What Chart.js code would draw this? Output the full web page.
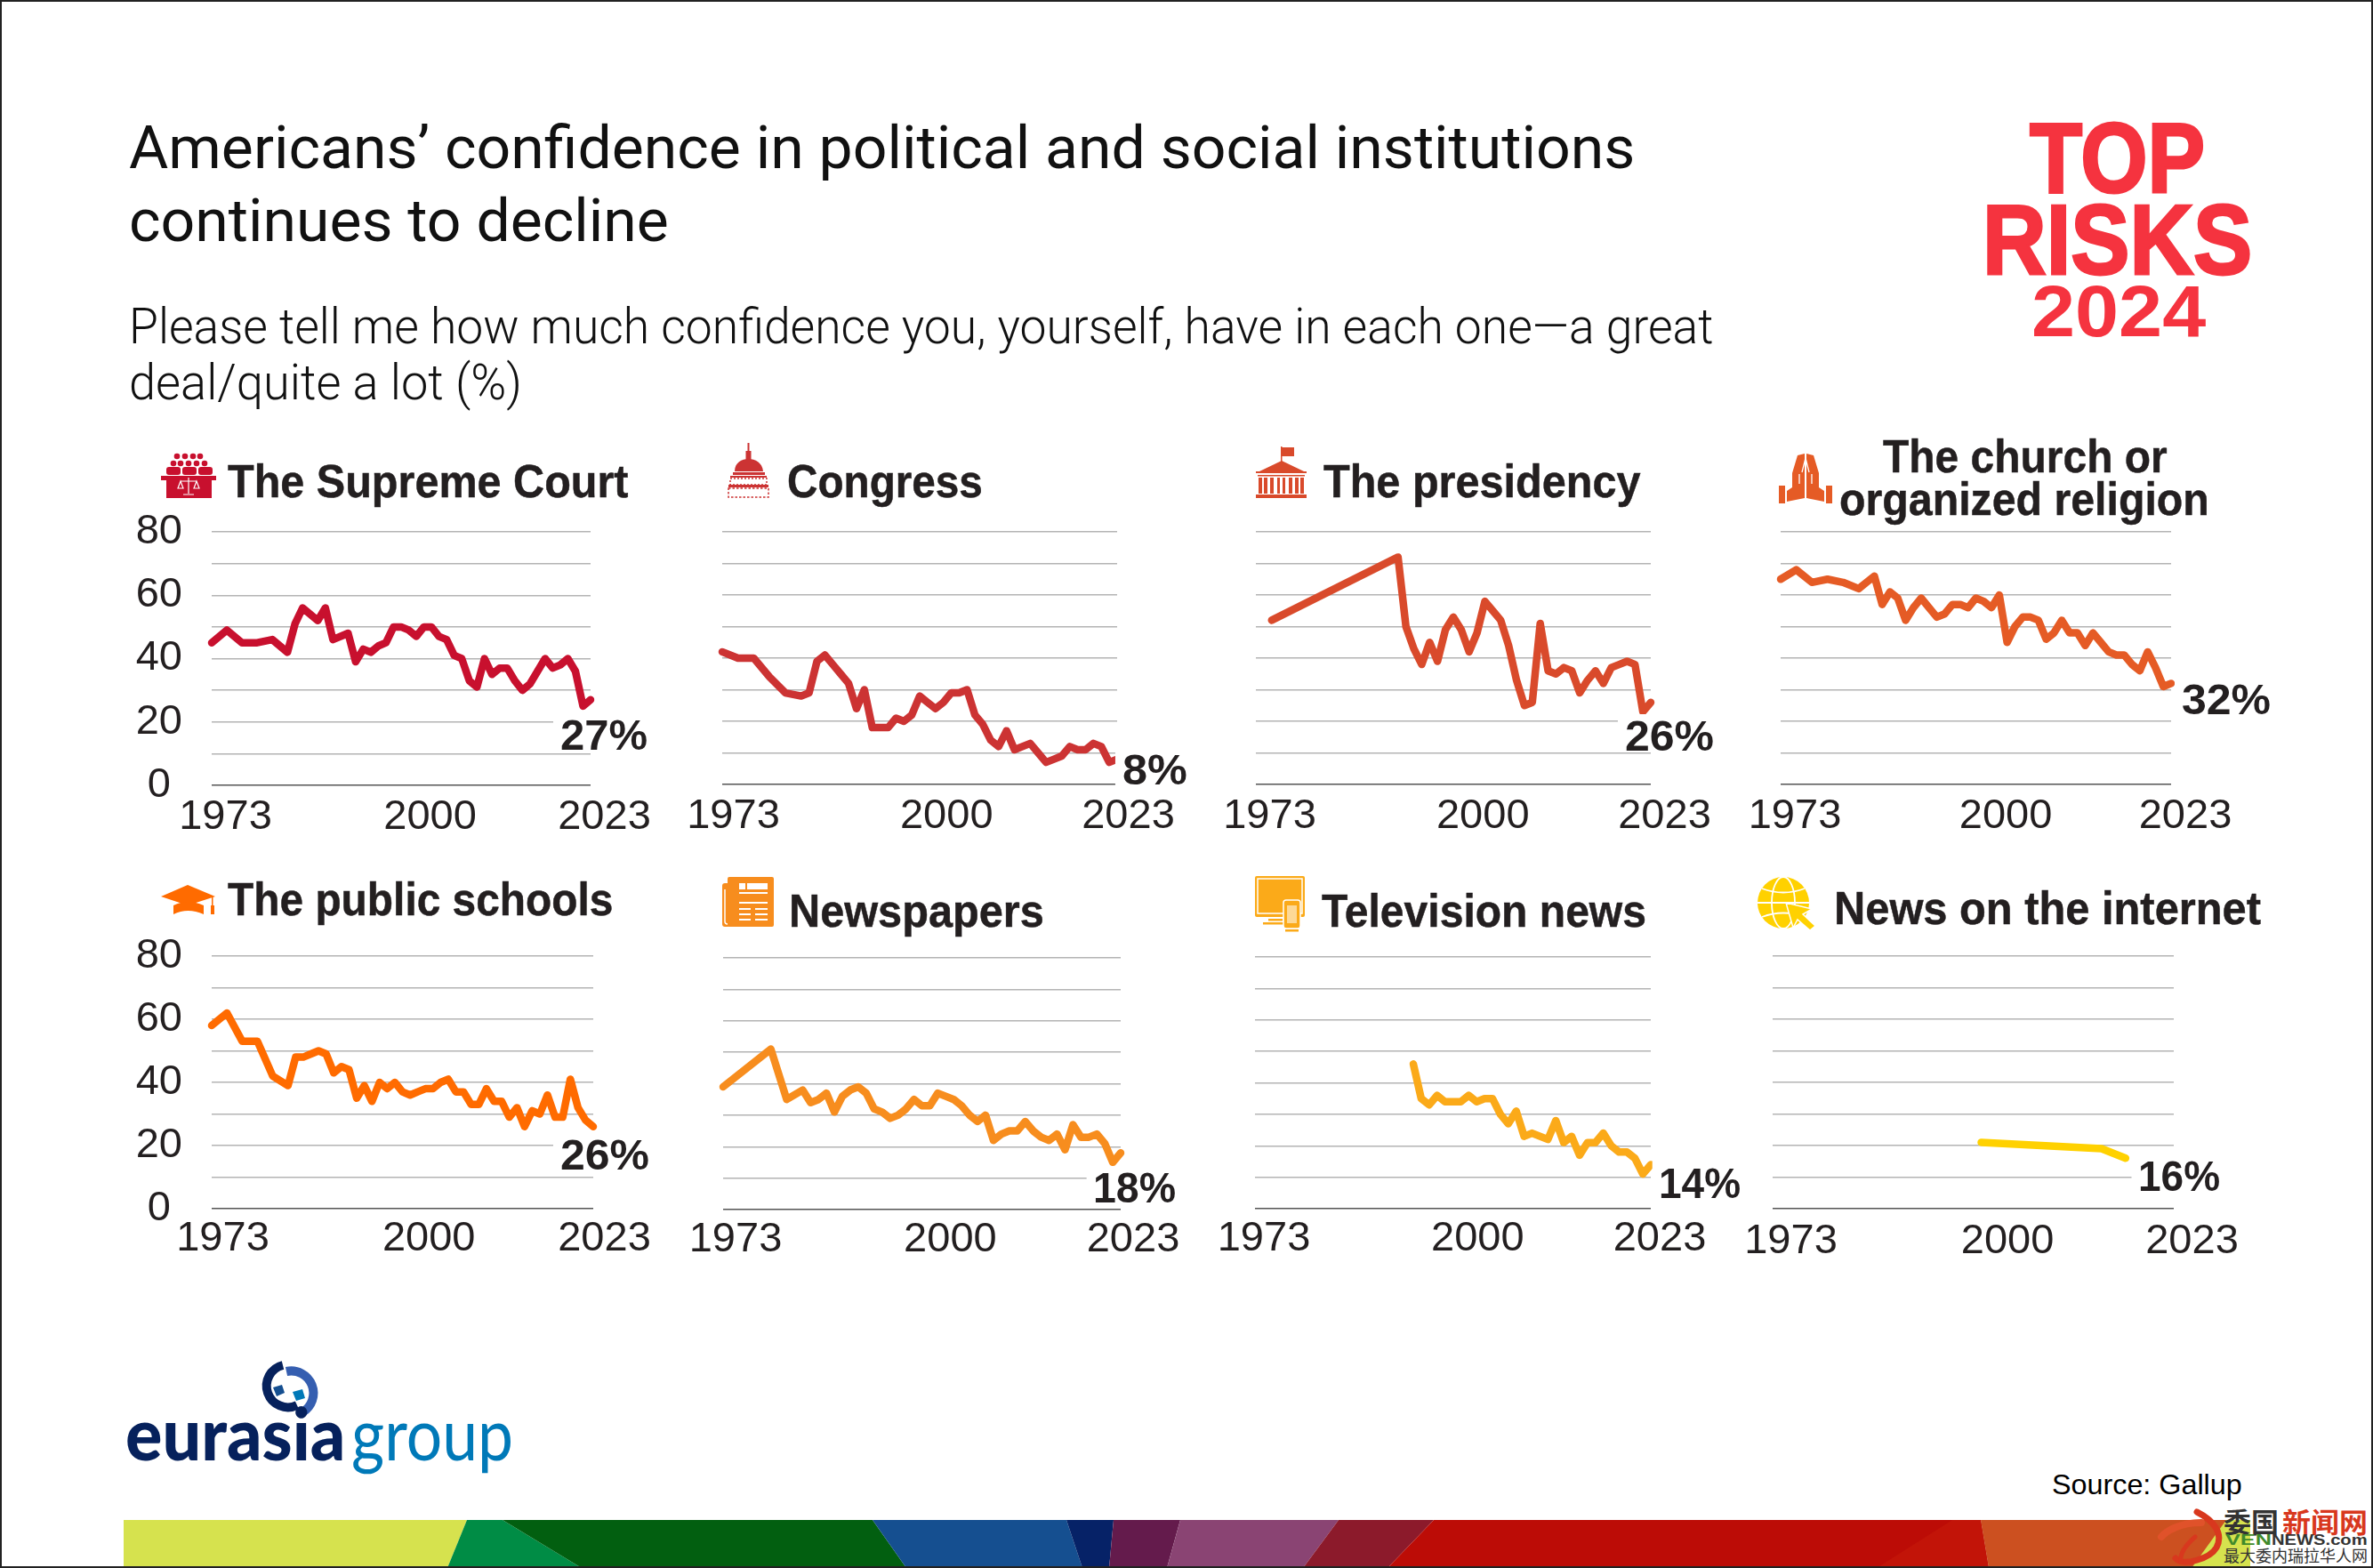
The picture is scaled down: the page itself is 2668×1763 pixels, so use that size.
<!DOCTYPE html>
<html>
<head>
<meta charset="utf-8">
<title>Confidence in institutions</title>
<script src="https://cdn.jsdelivr.net/npm/chart.js@4"></script>
<style>
  html, body { margin: 0; padding: 0; background: #fff; }
  #page { position: relative; width: 2668px; height: 1763px; overflow: hidden; background: #fff; }
  #frame { position: absolute; left: 0; top: 0; width: 2668px; height: 1763px; box-sizing: border-box; border: 2px solid #222; z-index: 9; pointer-events: none; }
  canvas { position: absolute; }
  svg { position: absolute; left: 0; top: 0; }
  .txt { position: absolute; white-space: nowrap; line-height: 1; transform-origin: left top; z-index: 5; font-family: "Liberation Sans", Arial, sans-serif; color: #231f20; }
</style>
</head>
<body>
<div id="page">
  <svg width="2668" height="1763" viewBox="0 0 2668 1763">
    <!-- colour strip -->
    <polygon fill="#d6e24e" points="139,1709 525,1709 503,1763 139,1763"/>
    <polygon fill="#008c45" points="525,1709 565,1709 654,1763 503,1763"/>
    <polygon fill="#025f10" points="565,1709 981,1709 1019,1763 654,1763"/>
    <polygon fill="#154f90" points="981,1709 1199,1709 1217,1763 1019,1763"/>
    <polygon fill="#062267" points="1199,1709 1252,1709 1247,1763 1217,1763"/>
    <polygon fill="#641b4c" points="1252,1709 1327,1709 1312,1763 1247,1763"/>
    <polygon fill="#8a4473" points="1327,1709 1505,1709 1465,1763 1312,1763"/>
    <polygon fill="#8c1a2b" points="1505,1709 1612,1709 1560,1763 1465,1763"/>
    <polygon fill="#bc0c06" points="1612,1709 2227,1709 2236,1763 1560,1763"/>
    <polygon fill="#c21408" points="2195,1709 2227,1709 2236,1763 2110,1763"/>
    <polygon fill="#cc5020" points="2227,1709 2530,1709 2530,1763 2236,1763"/>
    <polygon fill="#d6e24e" points="2503,1709 2530,1709 2530,1763 2464,1763"/>
    <rect x="2530" y="1700" width="138" height="63" fill="#fff"/>

    <!-- watermark dragon -->
    <g fill="none" stroke="#d8381e" stroke-linecap="round">
      <path d="M2470 1700 C2490 1710 2500 1725 2492 1740 C2485 1752 2455 1762 2446 1752" stroke-width="7"/>
      <path d="M2475 1712 C2450 1712 2435 1722 2430 1728" stroke-width="8" stroke="#e0522a"/>
      <path d="M2452 1756 C2450 1745 2460 1735 2468 1728" stroke-width="5"/>
    </g>

    <!-- eurasia group mark -->
    <path d="M318 1535 A24 24 0 1 0 334 1580" fill="none" stroke="#06215c" stroke-width="10"/>
    <path d="M322 1542 A25 25 0 0 1 340 1588" fill="none" stroke="#355eb0" stroke-width="10"/>
    <polygon fill="#154f90" points="307,1560 317,1557 320,1566 311,1570"/>
    <polygon fill="#0079b8" points="329,1565 340,1562 343,1572 333,1575"/>

    <!-- Supreme Court -->
    <g fill="#c8102e">
      <circle cx="199" cy="513" r="3.3"/><circle cx="208" cy="513" r="3.3"/><circle cx="217" cy="513" r="3.3"/><circle cx="225" cy="513" r="3.3"/>
      <circle cx="195" cy="521" r="3.3"/><circle cx="203" cy="521" r="3.3"/><circle cx="212" cy="521" r="3.3"/><circle cx="221" cy="521" r="3.3"/><circle cx="230" cy="521" r="3.3"/>
      <rect x="187" y="525" width="16" height="9" rx="3"/><rect x="205" y="525" width="16" height="9" rx="3"/><rect x="223" y="525" width="16" height="9" rx="3"/>
      <rect x="181" y="535" width="62" height="5"/><rect x="187" y="540" width="51" height="20"/>
    </g>
    <g fill="none" stroke="#fff" stroke-width="1.2">
      <path d="M212 537 V555 M206 556 H218 M203 541 H221 M203 541 L200 549 H206 Z M221 541 L218 549 H224 Z"/>
    </g>

    <!-- Capitol -->
    <g fill="#cc3333">
      <rect x="840.500" y="498" width="2" height="14"/><rect x="838.500" y="507" width="6" height="12"/>
      <path d="M826 530 C826 520 834 516 841.500 516 C849 516 857 520 858 530 Z"/>
      <rect x="824" y="531" width="36" height="3"/><rect x="821" y="535" width="41" height="2"/>
      <rect x="821" y="538" width="41" height="7" fill="none" stroke="#cc3333" stroke-width="1.500" stroke-dasharray="2 2"/>
      <rect x="819" y="545" width="45" height="3"/>
      <rect x="819" y="549" width="45" height="10" fill="none" stroke="#cc3333" stroke-width="1.500" stroke-dasharray="2.500 2"/>
    </g>

    <!-- White House -->
    <g fill="#d94a2b">
      <rect x="1440" y="502" width="1.500" height="18"/><rect x="1441" y="503" width="14" height="10"/>
      <polygon points="1441,518 1466,530 1416,530"/>
      <rect x="1412" y="530" width="57" height="2"/><rect x="1414" y="534" width="53" height="1.500"/>
      <rect x="1415" y="537" width="4" height="18"/><rect x="1421" y="537" width="4" height="18"/><rect x="1428" y="537" width="4" height="18"/>
      <rect x="1436" y="537" width="3" height="18"/><rect x="1442" y="537" width="3" height="18"/><rect x="1449" y="537" width="4" height="18"/>
      <rect x="1456" y="537" width="4" height="18"/><rect x="1462" y="537" width="4" height="18"/>
      <rect x="1412" y="556" width="57" height="4"/>
    </g>

    <!-- praying hands -->
    <g fill="#e55b25">
      <rect x="2000" y="546" width="7" height="20"/><rect x="2053" y="546" width="7" height="20"/>
      <polygon points="2029,510 2029,560 2009,564 2009,552 2015,548 2015,532 2021,512"/>
      <polygon points="2031,510 2031,560 2051,564 2051,552 2045,548 2045,532 2039,512"/>
    </g>
    <path d="M2030 515 L2026 531 M2030 515 L2034 531 M2023 533 V544 M2037 533 V544" fill="none" stroke="#fff" stroke-width="1.300"/>

    <!-- mortar board -->
    <g fill="#ff6b00">
      <polygon points="211,995 242,1008 211,1018 181,1008"/>
      <path d="M195 1018 Q211 1010 229 1018 V1028 Q211 1020 195 1028 Z"/>
      <rect x="238" y="1008" width="1.500" height="10"/><rect x="237" y="1018" width="4" height="10"/>
    </g>

    <!-- newspaper -->
    <g>
      <rect x="818" y="986" width="52" height="56" rx="2" fill="#f78d1e"/>
      <rect x="812" y="993" width="9" height="49" rx="3" fill="#f78d1e"/>
      <path d="M815 1000 V1036 Q815 1039 818 1039" fill="none" stroke="#fff" stroke-width="1.500"/>
      <g fill="#fff">
        <rect x="831" y="993" width="7" height="7"/><rect x="840" y="993" width="23" height="7"/>
        <rect x="831" y="1003" width="32" height="2"/><rect x="831" y="1014" width="32" height="2"/>
        <rect x="831" y="1021" width="13" height="2"/><rect x="849" y="1021" width="14" height="2"/>
        <rect x="831" y="1027" width="13" height="2"/><rect x="849" y="1027" width="14" height="2"/>
        <rect x="831" y="1033" width="13" height="2"/><rect x="849" y="1033" width="14" height="2"/>
      </g>
    </g>

    <!-- television -->
    <g>
      <rect x="1411" y="985" width="56" height="46" rx="2" fill="#fbaa19"/>
      <rect x="1414" y="988" width="50" height="39" fill="none" stroke="#fff" stroke-width="1.500"/>
      <rect x="1426" y="1033" width="16" height="2.500" fill="#fbaa19"/><rect x="1420" y="1037" width="24" height="2.500" fill="#fbaa19"/>
      <rect x="1443" y="1012" width="19" height="32" rx="3" fill="#fbaa19" stroke="#fff" stroke-width="1.500"/>
      <rect x="1445" y="1045" width="15" height="2.500" fill="#fbaa19"/>
      <rect x="1447" y="1018" width="11" height="20" fill="#fff" opacity="0.55"/>
    </g>

    <!-- globe and pointer -->
    <g>
      <circle cx="2005" cy="1015" r="29" fill="#ffd100"/>
      <g fill="none" stroke="#fff" stroke-width="1.800">
        <ellipse cx="2005" cy="1015" rx="13" ry="29"/>
        <path d="M1981 999 Q2005 1008 2029 999 M1981 1031 Q2005 1022 2029 1031 M1976 1015 H2034"/>
      </g>
      <polygon points="2008,1015 2037,1022 2027,1028 2041,1041 2035,1046 2021,1034 2016,1043" fill="#ffd100" stroke="#fff" stroke-width="1.500"/>
    </g>
  </svg>
</div>

<script>
// years with a Gallup reading
const years = [1973, 1975, 1977, 1979, 1981, 1983, 1984, 1985, 1986, 1987, 1988, 1989, 1990, 1991,
  1992, 1993, 1994, 1995, 1996, 1997, 1998, 1999, 2000, 2001, 2002, 2003, 2004, 2005, 2006, 2007,
  2008, 2009, 2010, 2011, 2012, 2013, 2014, 2015, 2016, 2017, 2018, 2019, 2020, 2021, 2022, 2023];

const supremeCourt = [45, 49, 45, 45, 46, 42, 51, 56, null, 52, 56, 46, null, 48,
  39, 43, 42, 44, 45, 50, 50, 49, 47, 50, 50, 47, 46, 41, 40, 33, 31, 40, 35, 37, 37, 33, 30, 32, 36, 40, 37, 38, 40, 36, 25, 27];
const congress = [42, 40, 40, 34, 29, 28, 29, 39, 41, 38, 35, 32, 24, 30,
  18, 18, 18, 21, 20, 22, 28, 26, 24, 26, 29, 29, 30, 22, 19, 14, 12, 17, 11, 12, 13, 10, 7, 8, 9, 12, 11, 11, 13, 12, 7, 8];
const presidency = [null, 52, null, null, null, null, null, null, null, null, null, null, null, 72,
  50, 43, 38, 45, 39, 49, 53, 49, 42, 48, 58, 55, 52, 44, 33, 25, 26, 51, 36, 35, 37, 36, 29, 33, 36, 32, 37, 38, 39, 38, 23, 26];
const church = [65, 68, 64, 65, 64, 62, 64, 66, 57, 61, 59, 52, 56, 59,
  56, 53, 54, 57, 57, 56, 59, 58, 56, 60, 45, 50, 53, 53, 52, 46, 48, 52, 48, 48, 44, 48, 45, 42, 41, 41, 38, 36, 42, 37, 31, 32];
const schools = [58, 62, 53, 53, 42, 39, 48, 48, 49, 50, 49, 43, 45, 44,
  35, 39, 34, 40, 38, 40, 37, 36, 37, 38, 38, 40, 41, 37, 37, 33, 33, 38, 34, 34, 29, 32, 26, 31, 30, 36, 29, 29, 41, 32, 28, 26];
const newspapers = [39, null, null, 51, 35, 38, 34, 35, 37, 31, 36, 38, 39, 37,
  32, 31, 29, 30, 32, 35, 33, 33, 37, 36, 35, 33, 30, 28, 30, 22, 24, 25, 25, 28, 25, 23, 22, 24, 19, 27, 23, 23, 24, 21, 15, 18];
const televisionNews = [null, null, null, null, null, null, null, null, null, null, null, null, null, null,
  null, 46, 35, 33, 36, 34, 34, 34, 36, 34, 35, 35, 30, 27, 31, 23, 24, 23, 22, 28, 21, 23, 17, 21, 21, 24, 20, 18, 18, 16, 11, 14];
const internetNews = [null, null, null, null, null, null, null, null, null, null, null, null, null, null,
  null, null, null, null, null, null, null, 21, null, null, null, null, null, null, null, null,
  null, null, null, null, null, null, 19, null, null, 16, null, null, null, null, null, null];

const xTickYears = [1973, 2000, 2023];
const yTickValues = [0, 10, 20, 30, 40, 50, 60, 70, 80];

// one row per small chart: plot box in page pixels, label shift, label pad, end label place
const panels = [
  { values: supremeCourt, color: "#c8102e", left: 238, right: 664.5, top: 597.7, bottom: 882.7, labelShift: 15.5, labelPad: 8, yLabels: true, end: [630, 843, 98] },
  { values: congress, color: "#cc3333", left: 812, right: 1256, top: 597.7, bottom: 882.3, labelShift: 12.5, labelPad: 8, yLabels: false, end: [1262, 882, 73] },
  { values: presidency, color: "#d94a2b", left: 1412, right: 1856.5, top: 597.5, bottom: 882.3, labelShift: 15.5, labelPad: 8, yLabels: false, end: [1827, 844, 100] },
  { values: church, color: "#e55b25", left: 2002, right: 2441.6, top: 597.5, bottom: 882.3, labelShift: 16, labelPad: 8, yLabels: false, end: [2453, 803, 100] },
  { values: schools, color: "#ff6b00", left: 238, right: 667.8, top: 1075.3, bottom: 1360, labelShift: 12.5, labelPad: 6, yLabels: true, end: [630, 1315, 100] },
  { values: newspapers, color: "#f78d1e", left: 813, right: 1260.8, top: 1077, bottom: 1360.3, labelShift: 14, labelPad: 6, yLabels: false, end: [1229, 1352, 93] },
  { values: televisionNews, color: "#fbaa19", left: 1410.8, right: 1856.5, top: 1076, bottom: 1359.7, labelShift: 10, labelPad: 6, yLabels: false, end: [1865, 1347, 92] },
  { values: internetNews, color: "#ffd100", left: 1993, right: 2444, top: 1075.3, bottom: 1359.3, labelShift: 20.5, labelPad: 9, yLabels: false, end: [2404, 1339, 92] }
];

const page = document.getElementById("page");

function addText(text, left, baseline, width, size, style) {
  const el = document.createElement("div");
  el.className = "txt";
  el.textContent = text;
  el.style.fontSize = size + "px";
  el.style.left = left + "px";
  Object.assign(el.style, style || {});
  const drop = style && style.dropEm ? style.dropEm : 0.8465;
  el.style.top = baseline - drop * size + "px";
  page.appendChild(el);
  if (width) {
    el.style.transform = "scaleX(" + width / el.offsetWidth + ")";
  }
  return el;
}

Chart.defaults.font.family = '"Liberation Sans", Arial, sans-serif';
Chart.defaults.color = "#231f20";

const padLeft = 100;
const padRight = 110;
const padTop = 40;
const padBottom = 70;

panels.forEach(p => {
  const canvas = document.createElement("canvas");
  canvas.width = p.right - p.left + padLeft + padRight;
  canvas.height = p.bottom - p.top + padTop + padBottom;
  canvas.style.left = p.left - padLeft + "px";
  canvas.style.top = p.top - padTop + "px";
  page.appendChild(canvas);

  new Chart(canvas.getContext("2d"), {
    type: "line",
    data: {
      datasets: [{
        data: years.map((y, i) => ({ x: y, y: p.values[i] })),
        borderColor: p.color,
        borderWidth: 8.5,
        borderCapStyle: "round",
        borderJoinStyle: "round",
        pointRadius: 0,
        tension: 0,
        spanGaps: true,
        clip: false
      }]
    },
    options: {
      responsive: false,
      animation: false,
      events: [],
      layout: { padding: { left: 0, right: padRight, top: padTop, bottom: 0 } },
      plugins: { legend: { display: false }, tooltip: { enabled: false }, title: { display: false } },
      scales: {
        x: {
          type: "linear",
          min: 1973,
          max: 2023,
          grid: { display: false, drawTicks: false },
          border: { display: false },
          afterBuildTicks: axis => { axis.ticks = xTickYears.map(v => ({ value: v })); },
          afterFit: axis => { axis.height = padBottom; },
          ticks: {
            autoSkip: false,
            maxRotation: 0,
            minRotation: 0,
            padding: p.labelPad,
            labelOffset: p.labelShift,
            font: { size: 47 },
            callback: v => String(v)
          }
        },
        y: {
          min: 0,
          max: 80,
          grid: {
            drawTicks: false,
            lineWidth: 1.5,
            color: c => (c.tick.value === 0 ? "#555555" : "#b4b4b4")
          },
          border: { display: false },
          afterBuildTicks: axis => { axis.ticks = yTickValues.map(v => ({ value: v })); },
          afterFit: axis => {
            axis.width = padLeft;
            axis.paddingTop = 0;
            axis.paddingBottom = 0;
          },
          ticks: {
            autoSkip: false,
            padding: 33,
            font: { size: 47 },
            callback: v => {
              if (!p.yLabels || v % 20 !== 0) return "";
              return v === 0 ? "0 " : String(v);
            }
          }
        }
      }
    }
  });

  const shown = p.values.filter(v => v !== null);
  const label = addText(shown[shown.length - 1] + "%", p.end[0], p.end[1], p.end[2], 49, { fontWeight: "bold", background: "#fff", height: "43px", boxShadow: "-8px 0 0 #fff" });
  label.style.zIndex = 6;
});

// chart titles
const titleStyle = { fontWeight: "bold", WebkitTextStroke: "0.5px #231f20" };
addText("The Supreme Court", 255.5, 559, 451, 52, titleStyle);
addText("Congress", 884.5, 559, 220, 52, titleStyle);
addText("The presidency", 1487.5, 559, 356, 52, titleStyle);
addText("The church or", 2117, 531, 320, 52, titleStyle);
addText("organized religion", 2068, 579, 416, 52, titleStyle);
addText("The public schools", 255.5, 1029, 433.5, 52, titleStyle);
addText("Newspapers", 886.5, 1041.7, 286.5, 52, titleStyle);
addText("Television news", 1486, 1041.7, 365, 52, titleStyle);
addText("News on the internet", 2062, 1039, 479.6, 52, titleStyle);

// headline and question
const headStyle = { fontFamily: "Roboto, sans-serif", fontWeight: "400", color: "#111" };
const subStyle = { fontFamily: "Roboto, sans-serif", fontWeight: "300", color: "#111" };
addText("Americans\u2019 confidence in political and social institutions", 145, 190, 1693, 67, headStyle);
addText("continues to decline", 145, 272, 607, 67, headStyle);
addText("Please tell me how much confidence you, yourself, have in each one\u2014a great", 145, 386, 1781, 56, subStyle);
addText("deal/quite a lot (%)", 145, 449, 442, 56, subStyle);

// Top Risks mark
const riskStyle = { fontWeight: "bold", color: "#f5333f", WebkitTextStroke: "3px #f5333f" };
addText("TOP", 2282, 217, 197, 111, riskStyle);
addText("RISKS", 2229, 309, 303, 111, riskStyle);
addText("2024", 2284, 379, 196, 81, { fontWeight: "bold", color: "#f5333f" });

// Eurasia Group mark
addText("eurasia", 141, 1638, 247, 82, { fontFamily: "Lato, sans-serif", fontWeight: "900", color: "#06215c" });
addText("group", 395, 1638, 182, 82, { fontFamily: "Lato, sans-serif", fontWeight: "400", color: "#0079b8" });

addText("Source: Gallup", 2307, 1680, 214, 32, { color: "#000" });

// watermark in the corner
addText("\u59d4\u56fd", 2500, 1721, 62, 31, { fontFamily: '"Noto Sans CJK SC", sans-serif', fontWeight: "bold", color: "#333", dropEm: 0.88 });
addText("\u65b0\u95fb\u7f51", 2566, 1721, 96, 31, { fontFamily: '"Noto Sans CJK SC", sans-serif', fontWeight: "bold", color: "#d8381e", dropEm: 0.88 });
addText("VEN", 2502, 1737, 52, 17, { fontWeight: "bold", color: "#3f8a2b" });
addText("NEWS.com", 2554, 1737, 108, 17, { fontWeight: "bold", color: "#333" });
addText("\u6700\u5927\u59d4\u5185\u745e\u62c9\u534e\u4eba\u7f51", 2500, 1755, 162, 18, { fontFamily: '"Noto Sans CJK SC", sans-serif', color: "#333", dropEm: 0.88 });

const frame = document.createElement("div");
frame.id = "frame";
page.appendChild(frame);
</script>
</body>
</html>
